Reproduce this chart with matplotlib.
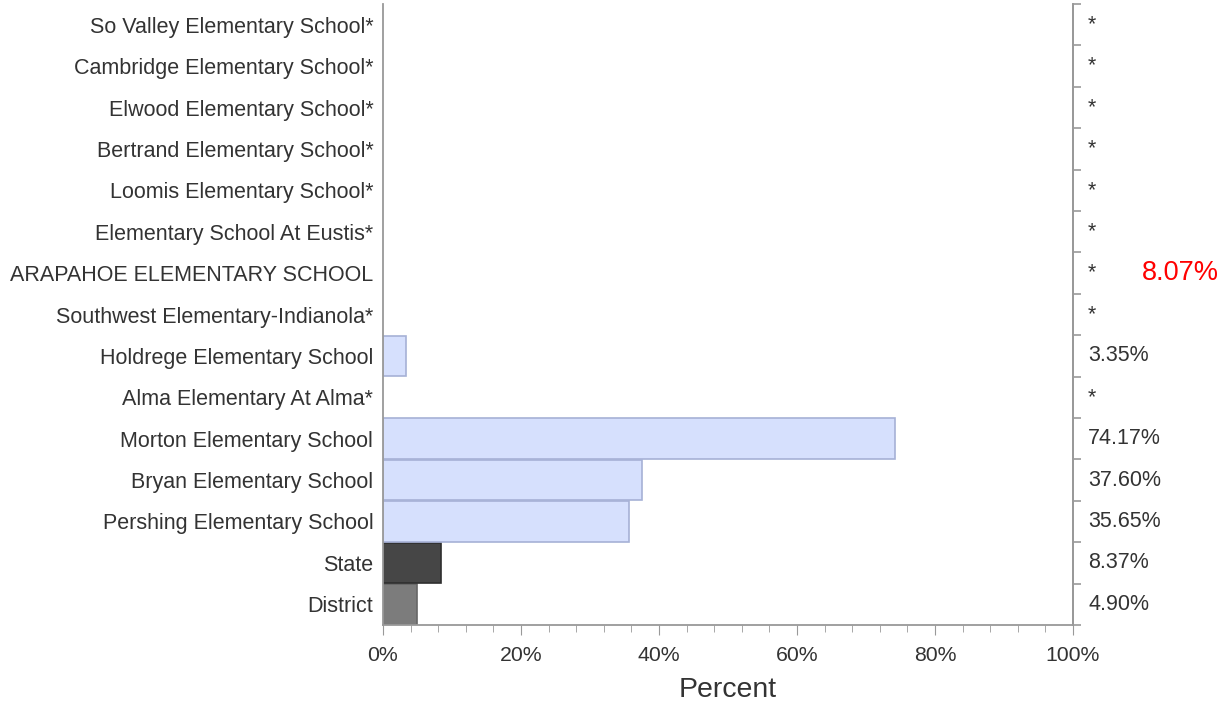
import numpy as np
import matplotlib.pyplot as plt
from matplotlib.ticker import MultipleLocator, FuncFormatter

plt.rcParams['font.family'] = ['Liberation Sans', 'DejaVu Sans']

# categories listed bottom to top
schools = ['District', 'State', 'Pershing Elementary School', 'Bryan Elementary School',
           'Morton Elementary School', 'Alma Elementary At Alma*', 'Holdrege Elementary School',
           'Southwest Elementary-Indianola*', 'ARAPAHOE ELEMENTARY SCHOOL',
           'Elementary School At Eustis*', 'Loomis Elementary School*', 'Bertrand Elementary School*',
           'Elwood Elementary School*', 'Cambridge Elementary School*', 'So Valley Elementary School*']
values = [4.90, 8.37, 35.65, 37.60, 74.17, None, 3.35, None, None, None, None, None, None, None, None]
value_labels = ['4.90%', '8.37%', '35.65%', '37.60%', '74.17%', '*', '3.35%', '*', '*', '*', '*', '*', '*', '*', '*']
highlight_school = 'ARAPAHOE ELEMENTARY SCHOOL'
highlight_value = '8.07%'

face = ['#7c7c7c', '#464646'] + ['#d6e0fd'] * 13
edge = ['#666666', '#2e2e2e'] + ['#a6b1d6'] * 13

fig = plt.figure(figsize=(12.25, 7.08), dpi=100)
ax = fig.add_axes([383 / 1225, 1 - 625 / 708, 690 / 1225, 621 / 708])

y = np.arange(len(schools))
for i, v in enumerate(values):
    if v is None:
        continue
    ax.barh(y[i], v, height=0.98, color=face[i], edgecolor=edge[i], linewidth=1.2)

ax.set_xlim(0, 100)
ax.set_ylim(-0.5, len(schools) - 0.5)
ax.set_yticks(y)
ax.set_yticklabels(schools, fontsize=15.5, color='#333333')
ax.tick_params(axis='y', length=0, pad=7)

ax.xaxis.set_major_locator(MultipleLocator(20))
ax.xaxis.set_minor_locator(MultipleLocator(4))
ax.xaxis.set_major_formatter(FuncFormatter(lambda v, p: f'{v:.0f}%'))
ax.tick_params(axis='x', which='major', length=7, color='#999999', labelsize=15.3, labelcolor='#333333', pad=8)
ax.tick_params(axis='x', which='minor', length=5, color='#999999')
ax.set_xlabel('Percent', fontsize=20.5, color='#333333', labelpad=9)

for s in ['left', 'bottom', 'right']:
    ax.spines[s].set_color('#999999')
    ax.spines[s].set_linewidth(1.3)
ax.spines['top'].set_visible(False)

# right side ticks at row boundaries
ax2 = ax.twinx()
ax2.set_ylim(ax.get_ylim())
ax2.set_yticks(np.arange(-0.5, len(schools), 1.0))
ax2.set_yticklabels([])
ax2.tick_params(axis='y', length=6, color='#999999', width=1.2)
for s in ['left', 'top', 'bottom']:
    ax2.spines[s].set_visible(False)
ax2.spines['right'].set_color('#999999')
ax2.spines['right'].set_linewidth(1.3)

for i, lab in enumerate(value_labels):
    ax.text(102.2, y[i], lab, fontsize=15.5, color='#333333', va='center', ha='left')

hi = schools.index(highlight_school)
ax.text(1.211, y[hi], highlight_value, transform=ax.get_yaxis_transform(),
        fontsize=19.5, color='red', va='center', ha='right')

fig.savefig('out.png', dpi=100)
